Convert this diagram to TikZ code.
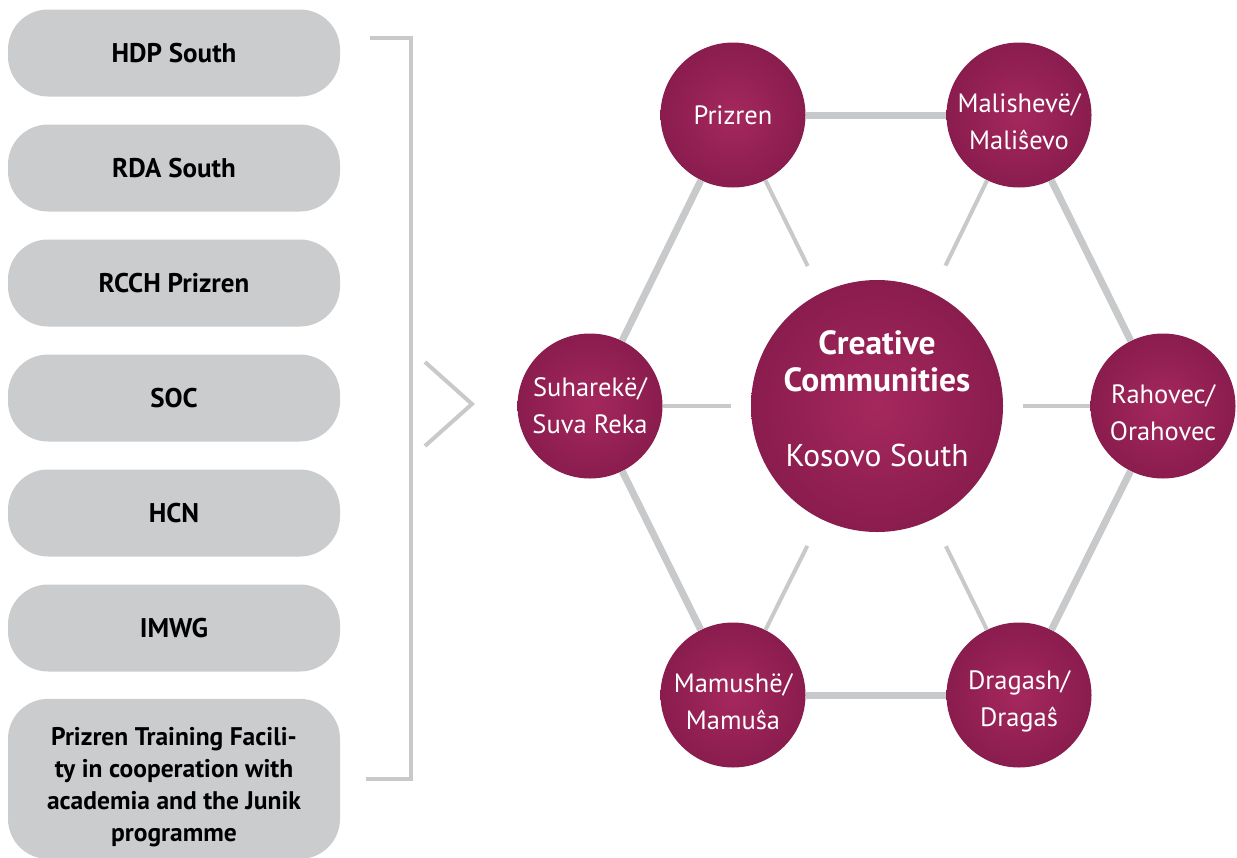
\documentclass[tikz,border=0pt]{standalone}
\usepackage{fontspec}
\setmainfont{PT Sans}
\usetikzlibrary{positioning}

\definecolor{boxgray}{HTML}{CBCCCE}
\definecolor{linegray}{HTML}{C8C9CB}
\definecolor{wineinner}{HTML}{A5285D}
\definecolor{wineouter}{HTML}{8A1C4E}

\begin{document}
\begin{tikzpicture}[x=1pt, y=-1pt, node distance = 115pt,
  partner/.style = {fill=boxgray, rounded corners=40pt, minimum width=332pt,
    minimum height=87pt, align=center, font=\fontsize{27}{32}\selectfont\bfseries},
  town/.style = {circle, shading=radial, inner color=wineinner, outer color=wineouter,
    minimum size=145pt, inner sep=0pt, align=center, text=white,
    font=\fontsize{26.5}{37}\selectfont},
  hub/.style = {town, minimum size=252pt, font=\fontsize{31.5}{37}\selectfont},
  ring/.style = {draw=linegray, line width=7pt},
  spoke/.style = {draw=linegray, line width=4pt, shorten >=20pt},
  frame/.style = {draw=linegray, line width=4pt}]
\useasboundingbox (0,0) rectangle (1237,857);

% partners
\node[partner] (hdp) at (174,53) {HDP South};
\node[partner] (rda) [below of = hdp] {RDA South};
\node[partner] (rcch) [below of = rda] {RCCH Prizren};
\node[partner] (soc) [below of = rcch] {SOC};
\node[partner] (hcn) [below of = soc] {HCN};
\node[partner] (imwg) [below of = hcn] {IMWG};
\node[partner, minimum height=160pt, font=\fontsize{25.5}{32}\selectfont\bfseries]
  (ptf) [below=27pt of imwg]
  {\rule{0pt}{35pt}Prizren Training Facili-\\ty in cooperation with\\academia and the Junik\\programme};

% bracket and chevron
\coordinate (brtop) at (370,38);
\coordinate (brbot) at (411,779);
\coordinate (brend) at (366,779);
\draw[frame] (brtop) -| (brbot) -- (brend);
\coordinate (chtop) at (425,362);
\coordinate (chtip) at (472,404);
\coordinate (chbot) at (425,446);
\draw[frame] (chtop) -- (chtip) -- (chbot);

% communities
\node[hub] (ks) at (877,406)
  {\bfseries\fontsize{33.5}{37}\selectfont Creative\\
   \bfseries\fontsize{33.5}{37}\selectfont Communities\\[38pt]
   \mdseries\fontsize{31.5}{37}\selectfont Kosovo South\rule[-14pt]{0pt}{14pt}};
\node[town] (prizren) at (733,115) {Prizren};
\node[town] (malisheve) at (1019,115) {\rule{0pt}{32pt}Malishevë/\\Maliŝevo};
\node[town] (rahovec) at (1163,406) {\rule{0pt}{32pt}Rahovec/\\Orahovec};
\node[town] (dragash) at (1019,695) {\rule{0pt}{32pt}Dragash/\\Dragaŝ};
\node[town] (mamushe) at (733,695) {\rule{0pt}{32pt}Mamushë/\\Mamuŝa};
\node[town] (suhareke) at (590,406) {Suharekë/\\Suva Reka};

\path[ring] (prizren) edge (malisheve)
  (malisheve) edge (rahovec)
  (rahovec) edge (dragash)
  (dragash) edge (mamushe)
  (mamushe) edge (suhareke)
  (suhareke) edge (prizren);

\path[spoke] (prizren) edge[shorten >=30pt] (ks)
  (malisheve) edge[shorten >=30pt] (ks)
  (rahovec) edge (ks)
  (dragash) edge[shorten >=30pt] (ks)
  (mamushe) edge[shorten >=30pt] (ks)
  (suhareke) edge (ks);
\end{tikzpicture}
\end{document}
